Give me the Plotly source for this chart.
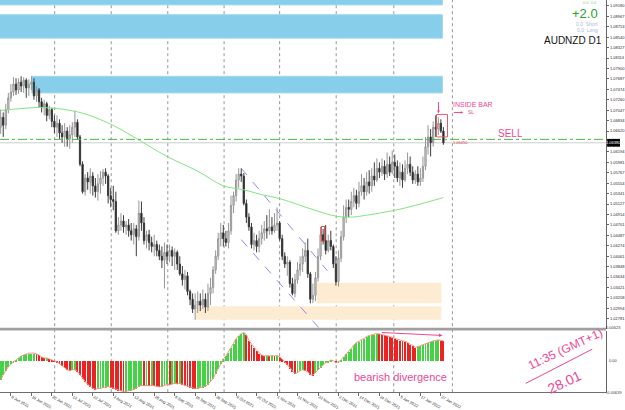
import plotly.graph_objects as go

W, H = 625, 410

# ---------------- data (AUDNZD, D1, one entry per trading day) ----------------
open_ = [1.0670,1.0690,1.0674,1.0706,1.0730,1.0742,1.0758,1.0746,1.0762,1.0754,
 1.0766,1.0750,1.0758,1.0762,1.0734,1.0746,1.0722,1.0710,1.0718,1.0694,
 1.0706,1.0682,1.0670,1.0678,1.0658,1.0650,1.0662,1.0646,1.0654,1.0670,
 1.0680,1.0650,1.0594,1.0538,1.0566,1.0558,1.0570,1.0550,1.0538,1.0554,
 1.0566,1.0578,1.0570,1.0530,1.0522,1.0518,1.0458,1.0470,1.0478,1.0466,
 1.0470,1.0458,1.0450,1.0462,1.0446,1.0494,1.0474,1.0438,1.0450,1.0434,
 1.0426,1.0430,1.0418,1.0406,1.0398,1.0414,1.0406,1.0418,1.0406,1.0414,
 1.0390,1.0370,1.0358,1.0366,1.0334,1.0318,1.0298,1.0306,1.0314,1.0306,
 1.0318,1.0302,1.0330,1.0342,1.0378,1.0406,1.0442,1.0454,1.0442,1.0434,
 1.0458,1.0510,1.0530,1.0562,1.0574,1.0570,1.0514,1.0486,1.0466,1.0430,
 1.0438,1.0426,1.0442,1.0454,1.0462,1.0458,1.0466,1.0458,1.0470,1.0474,
 1.0442,1.0406,1.0390,1.0394,1.0350,1.0330,1.0358,1.0378,1.0390,1.0406,
 1.0418,1.0370,1.0318,1.0326,1.0362,1.0406,1.0450,1.0438,1.0418,1.0438,
 1.0426,1.0390,1.0354,1.0402,1.0446,1.0486,1.0506,1.0502,1.0518,1.0530,
 1.0514,1.0538,1.0550,1.0538,1.0558,1.0550,1.0570,1.0562,1.0586,1.0578,
 1.0590,1.0574,1.0594,1.0578,1.0598,1.0590,1.0566,1.0578,1.0562,1.0586,
 1.0594,1.0578,1.0562,1.0574,1.0558,1.0566,1.0590,1.0630,1.0650,1.0638,
 1.0670,1.0666,1.0678,1.0662]

high = [1.0706,1.0700,1.0718,1.0740,1.0758,1.0772,1.0770,1.0770,1.0774,1.0772,
 1.0770,1.0768,1.0774,1.0770,1.0754,1.0750,1.0730,1.0726,1.0722,1.0714,
 1.0710,1.0694,1.0694,1.0686,1.0674,1.0678,1.0670,1.0674,1.0680,1.0704,
 1.0686,1.0654,1.0600,1.0574,1.0578,1.0586,1.0578,1.0566,1.0574,1.0580,
 1.0584,1.0586,1.0574,1.0546,1.0550,1.0538,1.0486,1.0494,1.0490,1.0478,
 1.0482,1.0474,1.0474,1.0470,1.0520,1.0518,1.0486,1.0458,1.0460,1.0446,
 1.0450,1.0438,1.0430,1.0426,1.0434,1.0430,1.0430,1.0426,1.0422,1.0418,
 1.0406,1.0386,1.0378,1.0374,1.0338,1.0330,1.0330,1.0334,1.0330,1.0338,
 1.0330,1.0350,1.0362,1.0386,1.0418,1.0454,1.0474,1.0470,1.0458,1.0474,
 1.0530,1.0538,1.0574,1.0586,1.0586,1.0576,1.0522,1.0494,1.0474,1.0454,
 1.0450,1.0458,1.0470,1.0478,1.0490,1.0502,1.0486,1.0494,1.0506,1.0478,
 1.0450,1.0414,1.0406,1.0398,1.0362,1.0370,1.0394,1.0406,1.0422,1.0434,
 1.0442,1.0374,1.0350,1.0374,1.0422,1.0466,1.0462,1.0470,1.0450,1.0458,
 1.0430,1.0406,1.0418,1.0458,1.0510,1.0522,1.0522,1.0538,1.0546,1.0542,
 1.0558,1.0574,1.0566,1.0578,1.0582,1.0586,1.0598,1.0606,1.0598,1.0606,
 1.0602,1.0618,1.0610,1.0622,1.0614,1.0602,1.0598,1.0594,1.0602,1.0618,
 1.0610,1.0590,1.0582,1.0590,1.0586,1.0610,1.0650,1.0674,1.0666,1.0682,
 1.0694,1.0690,1.0686,1.0670]

low = [1.0656,1.0650,1.0666,1.0698,1.0722,1.0734,1.0736,1.0738,1.0742,1.0740,
 1.0730,1.0734,1.0746,1.0726,1.0722,1.0710,1.0700,1.0694,1.0682,1.0686,
 1.0670,1.0658,1.0650,1.0646,1.0638,1.0630,1.0630,1.0626,1.0638,1.0650,
 1.0644,1.0590,1.0534,1.0530,1.0542,1.0534,1.0530,1.0526,1.0520,1.0534,
 1.0550,1.0554,1.0514,1.0506,1.0500,1.0454,1.0450,1.0458,1.0454,1.0450,
 1.0446,1.0438,1.0430,1.0406,1.0438,1.0458,1.0430,1.0422,1.0418,1.0414,
 1.0406,1.0406,1.0398,1.0382,1.0340,1.0390,1.0394,1.0386,1.0378,1.0378,
 1.0366,1.0346,1.0338,1.0326,1.0306,1.0290,1.0276,1.0290,1.0294,1.0298,
 1.0290,1.0294,1.0306,1.0330,1.0370,1.0398,1.0426,1.0426,1.0426,1.0422,
 1.0450,1.0494,1.0518,1.0546,1.0558,1.0510,1.0474,1.0458,1.0422,1.0418,
 1.0414,1.0414,1.0430,1.0438,1.0442,1.0450,1.0450,1.0454,1.0458,1.0438,
 1.0398,1.0382,1.0366,1.0342,1.0326,1.0322,1.0350,1.0366,1.0374,1.0394,
 1.0362,1.0310,1.0310,1.0314,1.0354,1.0398,1.0430,1.0410,1.0414,1.0418,
 1.0382,1.0346,1.0344,1.0394,1.0438,1.0474,1.0486,1.0490,1.0506,1.0502,
 1.0506,1.0530,1.0522,1.0530,1.0534,1.0538,1.0550,1.0558,1.0566,1.0570,
 1.0562,1.0566,1.0570,1.0574,1.0566,1.0558,1.0550,1.0546,1.0558,1.0574,
 1.0570,1.0554,1.0554,1.0550,1.0550,1.0558,1.0582,1.0614,1.0610,1.0630,
 1.0650,1.0654,1.0658,1.0634]

close = [1.0690,1.0674,1.0706,1.0730,1.0742,1.0758,1.0746,1.0762,1.0754,1.0766,
 1.0750,1.0758,1.0762,1.0734,1.0746,1.0722,1.0710,1.0718,1.0694,1.0706,
 1.0682,1.0670,1.0678,1.0658,1.0650,1.0662,1.0646,1.0654,1.0670,1.0680,
 1.0650,1.0594,1.0538,1.0566,1.0558,1.0570,1.0550,1.0538,1.0554,1.0566,
 1.0578,1.0570,1.0530,1.0522,1.0518,1.0458,1.0470,1.0478,1.0466,1.0470,
 1.0458,1.0450,1.0462,1.0446,1.0494,1.0474,1.0438,1.0450,1.0434,1.0426,
 1.0430,1.0418,1.0406,1.0398,1.0414,1.0406,1.0418,1.0406,1.0414,1.0390,
 1.0370,1.0358,1.0366,1.0334,1.0318,1.0298,1.0306,1.0314,1.0306,1.0318,
 1.0302,1.0330,1.0342,1.0378,1.0406,1.0442,1.0454,1.0442,1.0434,1.0458,
 1.0510,1.0530,1.0562,1.0574,1.0570,1.0514,1.0486,1.0466,1.0430,1.0438,
 1.0426,1.0442,1.0454,1.0462,1.0458,1.0466,1.0458,1.0470,1.0474,1.0442,
 1.0406,1.0390,1.0394,1.0350,1.0330,1.0358,1.0378,1.0390,1.0406,1.0418,
 1.0370,1.0318,1.0326,1.0362,1.0406,1.0450,1.0438,1.0418,1.0438,1.0426,
 1.0390,1.0354,1.0402,1.0446,1.0486,1.0506,1.0502,1.0518,1.0530,1.0514,
 1.0538,1.0550,1.0538,1.0558,1.0550,1.0570,1.0562,1.0586,1.0578,1.0590,
 1.0574,1.0594,1.0578,1.0598,1.0590,1.0566,1.0578,1.0562,1.0586,1.0594,
 1.0578,1.0562,1.0574,1.0558,1.0566,1.0590,1.0630,1.0650,1.0638,1.0670,
 1.0666,1.0678,1.0662,1.0638]

# moving average (light green), bar index -> value
ma_idx = [0, 8, 17, 31, 43, 52, 65, 77, 87, 95, 102, 109, 116, 124, 131, 137, 143, 154, 162, 173]
ma_val = [1.0704, 1.0708, 1.0710, 1.0700, 1.0676, 1.0650, 1.0610, 1.0580, 1.0550, 1.0542,
          1.0532, 1.0524, 1.0512, 1.0498, 1.0488, 1.0486, 1.0490, 1.0500, 1.0510, 1.0526]

# oscillator (lower window)
osc = [-0.0038,-0.0028,-0.0020,-0.0012,-0.0006,-0.0002,0.0002,0.0006,0.0010,0.0012,
 0.0014,0.0016,0.0016,0.0016,0.0014,0.0012,0.0008,0.0006,0.0006,0.0004,
 0.0002,-0.0001,-0.0002,-0.0006,-0.0010,-0.0014,-0.0018,-0.0020,-0.0018,-0.0018,
 -0.0022,-0.0028,-0.0036,-0.0042,-0.0048,-0.0052,-0.0056,-0.0058,-0.0056,-0.0056,
 -0.0055,-0.0054,-0.0052,-0.0054,-0.0056,-0.0058,-0.0060,-0.0061,-0.0062,-0.0062,
 -0.0061,-0.0060,-0.0058,-0.0056,-0.0052,-0.0050,-0.0051,-0.0050,-0.0051,-0.0050,
 -0.0051,-0.0052,-0.0053,-0.0052,-0.0050,-0.0048,-0.0049,-0.0047,-0.0046,-0.0047,
 -0.0046,-0.0048,-0.0050,-0.0052,-0.0054,-0.0056,-0.0057,-0.0056,-0.0055,-0.0054,
 -0.0052,-0.0048,-0.0042,-0.0036,-0.0026,-0.0016,-0.0006,0.0004,0.0010,0.0018,
 0.0028,0.0036,0.0046,0.0052,0.0056,0.0058,0.0054,0.0042,0.0034,0.0028,
 0.0022,0.0016,0.0012,0.0010,0.0011,0.0010,0.0011,0.0010,0.0011,0.0008,
 0.0004,-0.0002,-0.0008,-0.0016,-0.0022,-0.0026,-0.0024,-0.0020,-0.0018,-0.0020,
 -0.0022,-0.0028,-0.0029,-0.0024,-0.0018,-0.0014,-0.0008,-0.0004,-0.0002,0.0002,
 0.0000,-0.0004,-0.0002,0.0002,0.0008,0.0014,0.0020,0.0026,0.0034,0.0038,
 0.0040,0.0044,0.0046,0.0050,0.0052,0.0053,0.0054,0.0056,0.0055,0.0054,
 0.0053,0.0052,0.0050,0.0048,0.0046,0.0044,0.0042,0.0041,0.0040,0.0038,
 0.0034,0.0032,0.0028,0.0029,0.0031,0.0033,0.0035,0.0038,0.0040,0.0041,
 0.0042,0.0043,0.0042,0.0041]

date_tick_idx = [4, 12, 20, 28, 36, 44, 52, 60, 68, 76, 84, 92, 100, 108, 116, 124, 132, 140, 148, 156, 164, 172]
date_labels = ["8 Jun 2021", "18 Jun 2021", "30 Jun 2021", "12 Jul 2021", "22 Jul 2021", "3 Aug 2021",
               "13 Aug 2021", "25 Aug 2021", "6 Sep 2021", "16 Sep 2021", "28 Sep 2021", "8 Oct 2021",
               "20 Oct 2021", "1 Nov 2021", "11 Nov 2021", "22 Nov 2021", "2 Dec 2021", "14 Dec 2021",
               "24 Dec 2021", "5 Jan 2022", "17 Jan 2022", "27 Jan 2022"]

# analyst drawings (bar index, price)
blue_zones = [(-1, 172.6, 1.0920, 1.0945), (-1, 172.6, 1.0852, 1.0900), (12.15, 172.6, 1.0740, 1.0774)]
sand_zones = [(123.5, 172.2, 1.0310, 1.0352), (76.1, 172.2, 1.0276, 1.0304)]
channel = [(94.0, 1.0586, 127.7, 1.0376), (94.0, 1.0440, 124.6, 1.0258)]
sell_level = 1.0645
bid_level = 1.0638
inside_box = (170.3, 174.6, 1.0650, 1.0696)
small_box = (125.3, 126.6, 1.0437, 1.0467)

# ---------------- geometry ----------------
def px(x):
    return x / W

def py(y):
    return 1 - y / H

X_LO, X_HI = -0.26, 236.57
PLOT_R = 611 / W
Y_LO, Y_HI = 1.0258, 1.0930
idx = list(range(len(close)))

PINK = "rgb(240,70,150)"

fig = go.Figure()
fig.add_trace(go.Candlestick(
    x=idx, open=open_, high=high, low=low, close=close,
    xaxis="x", yaxis="y", whiskerwidth=0,
    increasing=dict(line=dict(color="rgb(150,150,150)", width=1), fillcolor="rgb(218,218,218)"),
    decreasing=dict(line=dict(color="rgb(60,60,60)", width=1), fillcolor="rgb(0,0,0)"),
    showlegend=False, hoverinfo="skip"))
fig.add_trace(go.Scatter(x=ma_idx, y=ma_val, mode="lines", xaxis="x", yaxis="y",
                         line=dict(color="rgb(130,228,130)", width=1, shape="spline"),
                         showlegend=False, hoverinfo="skip"))

bar_colors = []
for i, v in enumerate(osc):
    up = i == 0 or v >= osc[i - 1]
    bar_colors.append("rgb(70,210,70)" if up else "rgb(235,35,35)")
fig.add_trace(go.Bar(x=idx, y=osc, xaxis="x2", yaxis="y2", width=0.36,
                     marker=dict(color=bar_colors, line=dict(width=0)),
                     showlegend=False, hoverinfo="skip"))
fig.add_trace(go.Scatter(x=idx, y=osc, mode="lines", xaxis="x2", yaxis="y2",
                         line=dict(color="rgb(245,150,130)", width=1),
                         showlegend=False, hoverinfo="skip"))

shapes = []
for g in [21.1, 43.2, 65.3, 87.3, 109.0, 131.1, 153.6, 176.5]:
    shapes.append(dict(type="line", xref="x", yref="paper", x0=g, x1=g, y0=py(401), y1=1,
                       line=dict(color="rgb(150,150,150)", width=1, dash="dot"), layer="below"))
for (a, b, c, d) in blue_zones:
    shapes.append(dict(type="rect", xref="x", yref="y", x0=a, x1=b, y0=c, y1=d,
                       fillcolor="rgb(135,206,235)", line=dict(color="rgb(160,215,240)", width=1), layer="below"))
for (a, b, c, d) in sand_zones:
    shapes.append(dict(type="rect", xref="x", yref="y", x0=a, x1=b, y0=c, y1=d,
                       fillcolor="rgb(253,235,210)", line=dict(width=0), layer="below"))
for (a, b, c, d) in channel:
    shapes.append(dict(type="line", xref="x", yref="y", x0=a, y0=b, x1=c, y1=d,
                       line=dict(color="rgb(140,140,240)", width=1, dash="dash")))
shapes.append(dict(type="line", xref="paper", yref="y", x0=0, x1=PLOT_R, y0=bid_level, y1=bid_level,
                   line=dict(color="rgb(205,205,205)", width=1), layer="below"))
shapes.append(dict(type="line", xref="paper", yref="y", x0=0, x1=PLOT_R, y0=sell_level, y1=sell_level,
                   line=dict(color="rgb(70,185,70)", width=1, dash="dashdot")))
shapes.append(dict(type="rect", xref="x", yref="y", x0=inside_box[0], x1=inside_box[1],
                   y0=inside_box[2], y1=inside_box[3], line=dict(color="rgb(230,90,110)", width=1)))
shapes.append(dict(type="rect", xref="x", yref="y", x0=small_box[0], x1=small_box[1],
                   y0=small_box[2], y1=small_box[3], line=dict(color="rgb(220,60,60)", width=1)))
# window separator
shapes.append(dict(type="rect", xref="paper", yref="paper", x0=0, x1=PLOT_R, y0=py(338), y1=py(335),
                   fillcolor="rgb(160,160,160)", line=dict(width=0)))
# current price box on axis
shapes.append(dict(type="rect", xref="paper", yref="paper", x0=px(612), x1=1, y0=py(150), y1=py(142),
                   fillcolor="black", line=dict(width=0)))
# handwritten diagonal
shapes.append(dict(type="line", xref="paper", yref="paper", x0=px(530), y0=py(392), x1=px(597), y1=py(357),
                   line=dict(color=PINK, width=1)))

ann = []
def text(x, y, s, size, color, xanchor="center", angle=0, family="Liberation Sans"):
    ann.append(dict(x=px(x), y=py(y), xref="paper", yref="paper", text=s, showarrow=False,
                    xanchor=xanchor, yanchor="middle", textangle=angle,
                    font=dict(size=size, color=color, family=family)))

text(604, 2.5, "0.0  0.0", 4, "rgb(140,200,140)", "right")
text(605, 14, "+2.0", 13, "rgb(40,160,40)", "right")
text(605, 25, "0.0  Short", 5, "rgb(170,190,215)", "right")
text(605, 31, "0.0  Long", 5, "rgb(170,190,215)", "right")
text(609, 41, "AUDNZD D1", 10, "rgb(20,20,20)", "right")
text(618, 146, "1.06380", 4, "white")
text(464, 146, "1.06450", 4, "rgb(220,60,60)")
text(477, 107, "INSIDE BAR", 7, PINK)
text(475, 115, "SL", 5, PINK)
text(515, 137, "SELL", 10, PINK)
text(404, 385, "bearish divergence", 11, PINK)
text(570, 357, "11:35 (GMT+1)", 12, PINK, angle=-25)
text(569, 391, "28.01", 14, PINK, angle=-25)
text(618, 335, "0.00623", 4, "rgb(60,60,60)")
text(618, 369, "0.00", 4, "rgb(60,60,60)")
text(619, 401, "-0.00639", 4, "rgb(60,60,60)")
# arrows
ann.append(dict(x=px(442), y=py(116), xref="paper", yref="paper", ax=0, ay=-13, text="",
                showarrow=True, arrowhead=2, arrowsize=0.6, arrowwidth=1, arrowcolor=PINK))
ann.append(dict(x=px(467), y=py(115), xref="paper", yref="paper", ax=-11, ay=0, text="",
                showarrow=True, arrowhead=2, arrowsize=0.5, arrowwidth=1, arrowcolor=PINK))
ann.append(dict(x=px(446), y=py(343), xref="paper", yref="paper", ax=-62, ay=-3, text="",
                showarrow=True, arrowhead=2, arrowsize=0.7, arrowwidth=1, arrowcolor=PINK))

# price scale ticks (skip the one hidden behind the current-price box)
price_ticks = []
k = 0
while True:
    v = 1.0918 - k * 0.002133
    if v < Y_LO:
        break
    if abs(v - bid_level) > 0.0010:
        price_ticks.append(round(v, 5))
    k += 1

axis_font = dict(size=4, color="rgb(40,40,40)", family="Liberation Sans")
fig.update_layout(
    width=W, height=H, margin=dict(l=0, r=0, t=0, b=0),
    paper_bgcolor="white", plot_bgcolor="white", showlegend=False, bargap=0,
    xaxis=dict(domain=[0, PLOT_R], range=[X_LO, X_HI], anchor="y", showticklabels=False,
               showgrid=False, zeroline=False, rangeslider=dict(visible=False), ticks=""),
    yaxis=dict(domain=[py(336), 1], range=[Y_LO, Y_HI], anchor="x", side="right",
               showgrid=False, zeroline=False, showline=True, linecolor="rgb(100,100,100)", linewidth=1,
               ticks="outside", ticklen=2, tickcolor="rgb(100,100,100)",
               tickmode="array", tickvals=price_ticks, tickformat=".5f", tickfont=axis_font),
    xaxis2=dict(domain=[0, PLOT_R], range=[X_LO, X_HI], anchor="y2", showgrid=False, zeroline=False,
                showline=True, linecolor="rgb(110,110,110)", linewidth=1,
                tickmode="array", tickvals=date_tick_idx, ticktext=date_labels,
                ticks="outside", ticklen=3, tickcolor="rgb(110,110,110)",
                ticklabelposition="outside right", tickfont=axis_font),
    yaxis2=dict(domain=[py(401), py(338)], range=[-0.0064, 0.0062], anchor="x2", side="right",
                showgrid=False, zeroline=False, showline=True, linecolor="rgb(100,100,100)",
                showticklabels=False, ticks=""),
    shapes=shapes, annotations=ann,
)

fig.write_html("out.html")
